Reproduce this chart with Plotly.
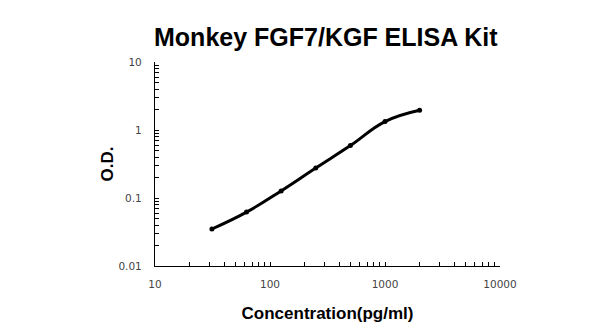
import plotly.graph_objects as go

conc = [31.25, 62.5, 125, 250, 500, 1000, 2000]
od = [0.035, 0.062, 0.127, 0.276, 0.59, 1.33, 1.95]

x_decades = [10, 100, 1000, 10000]
y_decades = [0.01, 0.1, 1, 10]

def log_ticks(decades):
    vals, text = [], []
    for i, d in enumerate(decades):
        if i < len(decades) - 1:
            for m in range(1, 10):
                vals.append(d * m)
                text.append(str(d) if m == 1 else "")
        else:
            vals.append(d)
            text.append(str(d))
    return vals, text

xv, xt = log_ticks(x_decades)
yv, yt = log_ticks(y_decades)

fig = go.Figure()
fig.add_trace(go.Scatter(
    x=conc, y=od, mode="lines+markers",
    line=dict(color="black", width=3, shape="spline", smoothing=1.2),
    marker=dict(color="black", size=5),
    showlegend=False,
))

tickfont = dict(family="DejaVu Sans", size=10.5, color="#444444")
fig.update_layout(
    width=600, height=328,
    margin=dict(l=155, r=100, t=62, b=62),
    paper_bgcolor="white", plot_bgcolor="white",
    title=dict(text="<b>Monkey FGF7/KGF ELISA Kit</b>", x=0.543, xanchor="center",
               y=0.887, yanchor="middle",
               font=dict(family="Liberation Sans", size=25, color="black")),
    xaxis=dict(type="log", range=[1, 4], tickvals=xv, ticktext=xt,
               ticks="inside", ticklen=4, tickcolor="black", tickwidth=1,
               ticklabelstandoff=8, automargin=False,
               showline=True, linecolor="black", linewidth=1.2,
               showgrid=False, zeroline=False, tickfont=tickfont,
               title=dict(text="<b>Concentration(pg/ml)</b>", standoff=18,
                          font=dict(family="Liberation Sans", size=17, color="black"))),
    yaxis=dict(type="log", range=[-2, 1], tickvals=yv, ticktext=yt,
               ticks="inside", ticklen=4, tickcolor="black", tickwidth=1,
               ticklabelstandoff=10, automargin=False,
               showline=True, linecolor="black", linewidth=1.2,
               showgrid=False, zeroline=False, tickfont=tickfont,
               title=dict(text="<b>O.D.</b>", standoff=0,
                          font=dict(family="Liberation Sans", size=17, color="black"))),
)

fig.write_html("out.html")
